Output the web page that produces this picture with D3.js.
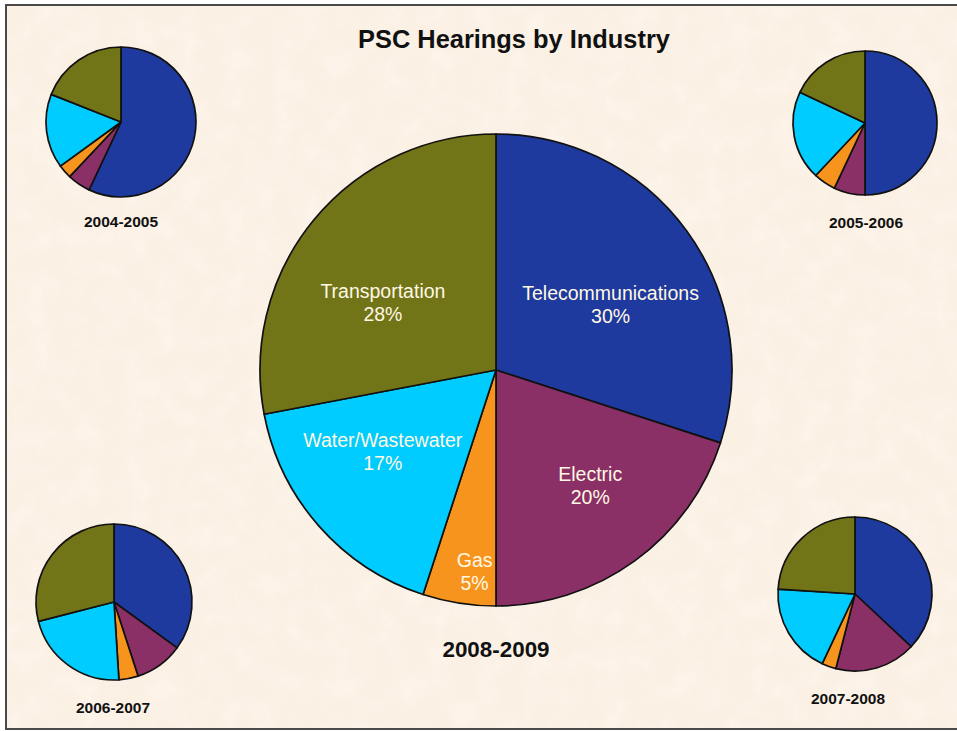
<!DOCTYPE html><html><head><meta charset="UTF-8"><script src="https://d3js.org/d3.v7.min.js"></script><style>
            body { margin: 0; background: #fff; }
            #chart { width: 957px; height: 731px; font-family: Arial, "Liberation Sans", sans-serif; }
        </style></head><body><div id="chart"></div><script>
            const industries = ['Telecommunications', 'Electric', 'Gas', 'Water/Wastewater', 'Transportation'];
            const colors = ['#1f3a9e', '#8b3066', '#f7941d', '#00ccff', '#727418'];
            const years = ['2004-2005', '2005-2006', '2006-2007', '2007-2008', '2008-2009'];
            const share0405 = [57, 5, 3, 16, 19];
            const share0506 = [50, 7, 5, 20, 18];
            const share0607 = [35, 10, 4, 22, 29];
            const share0708 = [37, 17, 3, 19, 24];
            const share0809 = [30, 20, 5, 17, 28];

            const svg = d3.select('#chart')
                .append('svg')
                .attr('width', 957)
                .attr('height', 731);

            // faint paper texture
            const defs = svg.append('defs');
            const filter = defs.append('filter').attr('id', 'paper');
            filter.append('feTurbulence')
                .attr('type', 'fractalNoise')
                .attr('baseFrequency', 0.04)
                .attr('numOctaves', 3)
                .attr('seed', 4)
                .attr('result', 'noise');
            filter.append('feColorMatrix')
                .attr('in', 'noise')
                .attr('type', 'matrix')
                .attr('values', '0 0 0 0 1  0 0 0 0 1  0 0 0 0 1  0 0 0 0.6 -0.25');
            filter.append('feComposite').attr('in2', 'SourceGraphic').attr('operator', 'in');

            svg.append('rect').attr('width', 957).attr('height', 731).attr('fill', '#fff');
            svg.append('rect')
                .attr('x', 6).attr('y', 5).attr('width', 990).attr('height', 724)
                .attr('fill', '#fbf0e4');
            svg.append('rect')
                .attr('x', 6).attr('y', 5).attr('width', 990).attr('height', 724)
                .attr('fill', '#fbf0e4')
                .attr('filter', 'url(#paper)');
            svg.append('rect')
                .attr('x', 6).attr('y', 5).attr('width', 990).attr('height', 724)
                .attr('fill', 'none')
                .attr('stroke', '#4a4a4a')
                .attr('stroke-width', 2);

            svg.append('text')
                .attr('x', 514)
                .attr('y', 48)
                .attr('text-anchor', 'middle')
                .attr('font-size', 25.4)
                .attr('font-weight', 'bold')
                .attr('fill', '#111')
                .text('PSC Hearings by Industry');

            const pie = d3.pie().sort(null).value(d => d);
            const color = d3.scaleOrdinal().domain(industries).range(colors);

            function drawPie(values, cx, cy, r) {
                const g = svg.append('g').attr('transform', `translate(${cx},${cy})`);
                const arc = d3.arc().innerRadius(0).outerRadius(r);
                const arcs = pie(values);
                g.selectAll('path')
                    .data(arcs)
                    .enter().append('path')
                    .attr('d', arc)
                    .attr('fill', (d, i) => color(industries[i]))
                    .attr('stroke', '#111')
                    .attr('stroke-width', 1.7)
                    .attr('stroke-linejoin', 'round');
                return {g, arcs};
            }

            function yearLabel(text, x, y, size) {
                svg.append('text')
                    .attr('x', x)
                    .attr('y', y)
                    .attr('text-anchor', 'middle')
                    .attr('font-size', size)
                    .attr('font-weight', 'bold')
                    .attr('fill', '#111')
                    .text(text);
            }

            drawPie(share0405, 121, 122, 75);
            yearLabel(years[0], 121, 227, 15.5);
            drawPie(share0506, 865, 123, 72);
            yearLabel(years[1], 866, 228, 15.5);
            drawPie(share0607, 114, 602, 78);
            yearLabel(years[2], 113, 713, 15.5);
            drawPie(share0708, 855, 594, 77);
            yearLabel(years[3], 848, 704, 15.5);

            const R = 236;
            const main = drawPie(share0809, 496, 370, R);
            yearLabel(years[4], 496, 657, 22.4);

            // label placement like the spreadsheet's best-fit, with small nudges
            const labelArc = d3.arc().innerRadius(R * 0.95).outerRadius(R * 0.25);
            const outerLabelArc = d3.arc().innerRadius(R * 0.85).outerRadius(R * 0.85);
            const nudge = [[0, 17], [11, 0], [10, 3], [-7, -13], [-4, 22]];
            const labels = main.g.selectAll('text.lbl')
                .data(main.arcs)
                .enter().append('text')
                .attr('class', 'lbl')
                .attr('text-anchor', 'middle')
                .attr('font-size', 19.5)
                .attr('fill', '#fff8e4')
                .attr('transform', (d, i) => {
                    const c = (d.endAngle - d.startAngle < 0.5 ? outerLabelArc : labelArc).centroid(d);
                    return `translate(${c[0] + nudge[i][0]},${c[1] + nudge[i][1]})`;
                });
            labels.append('tspan')
                .attr('x', 0)
                .attr('dy', '-0.2em')
                .text((d, i) => industries[i]);
            labels.append('tspan')
                .attr('x', 0)
                .attr('dy', '1.18em')
                .text(d => d.data + '%');
        </script></body></html>
